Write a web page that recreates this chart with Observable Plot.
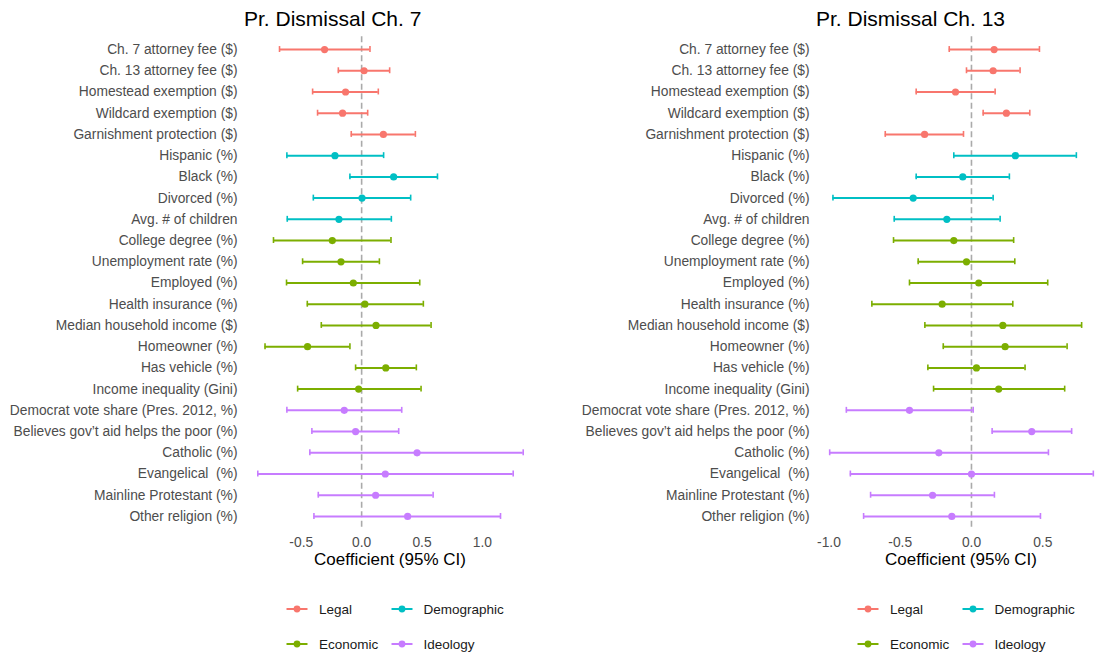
<!DOCTYPE html>
<html>
<head>
<meta charset="utf-8">
<script src="https://cdn.jsdelivr.net/npm/d3@7"></script>
<script src="https://cdn.jsdelivr.net/npm/@observablehq/plot@0.6"></script>
<style>
  html, body { margin: 0; padding: 0; background: #fff; }
  body { font-family: "Liberation Sans", Arial, sans-serif; }
  #root { position: relative; width: 1112px; height: 656px; overflow: hidden; }
  .panel { position: absolute; top: 0; }
  svg text { white-space: pre; }
  .title { position: absolute; font-size: 21px; line-height: 24px; color: #000; white-space: nowrap; }
  .xtitle { position: absolute; font-size: 17px; line-height: 20px; color: #000; white-space: nowrap; transform: translateX(-50%); }
  .leg { position: absolute; font-size: 13.5px; color: #1a1a1a; white-space: nowrap; display: flex; align-items: center; }
  .leg svg { margin-right: 11px; }
</style>
</head>
<body>
<div id="root"></div>
<script>
const terms = [
  "Ch. 7 attorney fee ($)", "Ch. 13 attorney fee ($)", "Homestead exemption ($)", "Wildcard exemption ($)",
  "Garnishment protection ($)", "Hispanic (%)", "Black (%)", "Divorced (%)", "Avg. # of children",
  "College degree (%)", "Unemployment rate (%)", "Employed (%)", "Health insurance (%)",
  "Median household income ($)", "Homeowner (%)", "Has vehicle (%)", "Income inequality (Gini)",
  "Democrat vote share (Pres. 2012, %)", "Believes gov\u2019t aid helps the poor (%)", "Catholic (%)",
  "Evangelical  (%)", "Mainline Protestant (%)", "Other religion (%)"
];
const groups = [
  "Legal", "Legal", "Legal", "Legal", "Legal",
  "Demographic", "Demographic", "Demographic", "Demographic",
  "Economic", "Economic", "Economic", "Economic", "Economic", "Economic", "Economic", "Economic",
  "Ideology", "Ideology", "Ideology", "Ideology", "Ideology", "Ideology"
];
const groupNames = ["Legal", "Demographic", "Economic", "Ideology"];
const groupColors = ["#F8766D", "#00BFC4", "#7CAE00", "#C77CFF"];

// Pr. Dismissal Ch. 7
const ch7Est = [-0.307, 0.02, -0.133, -0.158, 0.18, -0.221, 0.265, 0.003, -0.188, -0.243, -0.171, -0.069, 0.027, 0.119, -0.448, 0.2, -0.025, -0.144, -0.05, 0.459, 0.196, 0.116, 0.381];
const ch7Lo  = [-0.68, -0.193, -0.406, -0.365, -0.086, -0.619, -0.097, -0.40, -0.616, -0.73, -0.489, -0.622, -0.45, -0.334, -0.80, -0.05, -0.53, -0.619, -0.412, -0.429, -0.86, -0.359, -0.395];
const ch7Hi  = [0.069, 0.232, 0.138, 0.05, 0.445, 0.182, 0.628, 0.406, 0.246, 0.243, 0.147, 0.481, 0.511, 0.575, -0.097, 0.453, 0.492, 0.332, 0.307, 1.338, 1.255, 0.592, 1.15];

// Pr. Dismissal Ch. 13
const ch13Est = [0.159, 0.152, -0.112, 0.245, -0.329, 0.308, -0.061, -0.409, -0.173, -0.124, -0.035, 0.051, -0.206, 0.22, 0.236, 0.035, 0.191, -0.435, 0.423, -0.229, 0.0, -0.273, -0.138];
const ch13Lo  = [-0.156, -0.035, -0.388, 0.082, -0.605, -0.124, -0.388, -0.972, -0.542, -0.547, -0.374, -0.435, -0.699, -0.327, -0.198, -0.306, -0.266, -0.878, 0.145, -0.995, -0.85, -0.708, -0.757];
const ch13Hi  = [0.477, 0.341, 0.166, 0.409, -0.056, 0.736, 0.266, 0.152, 0.201, 0.296, 0.304, 0.535, 0.29, 0.773, 0.671, 0.376, 0.654, 0.012, 0.703, 0.54, 0.855, 0.161, 0.484];

const ch7Ticks = [-0.5, 0, 0.5, 1.0];
const ch13Ticks = [-1.0, -0.5, 0, 0.5];

const root = document.getElementById("root");

function panel({est, lo, hi, ticks, domain, left, marginLeft, marginRight, title, titleX, xtitleX}) {
  const rows = terms.map((t, i) => ({term: t, group: groups[i], est: est[i], lo: lo[i], hi: hi[i]}));
  const H = 580, W = 556;
  const plot = Plot.plot({
    width: W, height: H,
    marginLeft, marginRight, marginTop: 36.3, marginBottom: H - 528.7,
    style: {fontFamily: '"Liberation Sans", Arial, sans-serif', background: "transparent"},
    x: {domain, ticks, label: null},
    y: {type: "band", domain: terms, paddingInner: 0.72, paddingOuter: 0.46, round: false, label: null},
    color: {domain: groupNames, range: groupColors},
    marks: [
      Plot.ruleX([0], {stroke: "#aaaaaa", strokeWidth: 1.6, strokeDasharray: "6,3.5"}),
      Plot.ruleY(rows, {y: "term", x1: "lo", x2: "hi", stroke: "group", strokeWidth: 2}),
      Plot.tickX(rows, {x: "lo", y: "term", stroke: "group", strokeWidth: 1.6}),
      Plot.tickX(rows, {x: "hi", y: "term", stroke: "group", strokeWidth: 1.6}),
      Plot.dot(rows, {x: "est", y: "term", fill: "group", r: 3.6}),
      Plot.axisY({tickSize: 0, tickPadding: 7, fontSize: 13.8, fill: "#4d4d4d", label: null}),
      Plot.axisX({ticks, tickSize: 0, tickPadding: 8, fontSize: 13.8, fill: "#4d4d4d", label: null,
        tickFormat: d => d.toFixed(1)})
    ]
  });
  plot.classList.add("panel");
  plot.style.left = left + "px";
  root.appendChild(plot);

  const t = document.createElement("div");
  t.className = "title";
  t.textContent = title;
  t.style.left = titleX + "px";
  t.style.top = "7px";
  root.appendChild(t);

  const xt = document.createElement("div");
  xt.className = "xtitle";
  xt.textContent = "Coefficient (95% CI)";
  xt.style.left = xtitleX + "px";
  xt.style.top = "550px";
  root.appendChild(xt);
}

function legend(offset) {
  const pos = [
    {x: 286, y: 609}, {x: 390.5, y: 609},
    {x: 286, y: 644}, {x: 390.5, y: 644}
  ];
  groupNames.forEach((g, i) => {
    const d = document.createElement("div");
    d.className = "leg";
    d.style.left = (pos[i].x + offset) + "px";
    d.style.top = (pos[i].y - 9) + "px";
    d.style.height = "18px";
    const c = groupColors[i];
    d.innerHTML = `<svg width="22" height="18"><line x1="0.5" x2="21.5" y1="9" y2="9" stroke="${c}" stroke-width="2"/><circle cx="11" cy="9" r="3.4" fill="${c}"/></svg><span>${g}</span>`;
    root.appendChild(d);
  });
}

panel({est: ch7Est, lo: ch7Lo, hi: ch7Hi, ticks: ch7Ticks, domain: [-0.97, 1.448],
  left: 0, marginLeft: 244, marginRight: 20, title: "Pr. Dismissal Ch. 7", titleX: 244, xtitleX: 390});
panel({est: ch13Est, lo: ch13Lo, hi: ch13Hi, ticks: ch13Ticks, domain: [-1.0875, 0.9475],
  left: 556, marginLeft: 260, marginRight: 6, title: "Pr. Dismissal Ch. 13", titleX: 816, xtitleX: 961});
legend(0);
legend(571);
</script>
</body>
</html>
